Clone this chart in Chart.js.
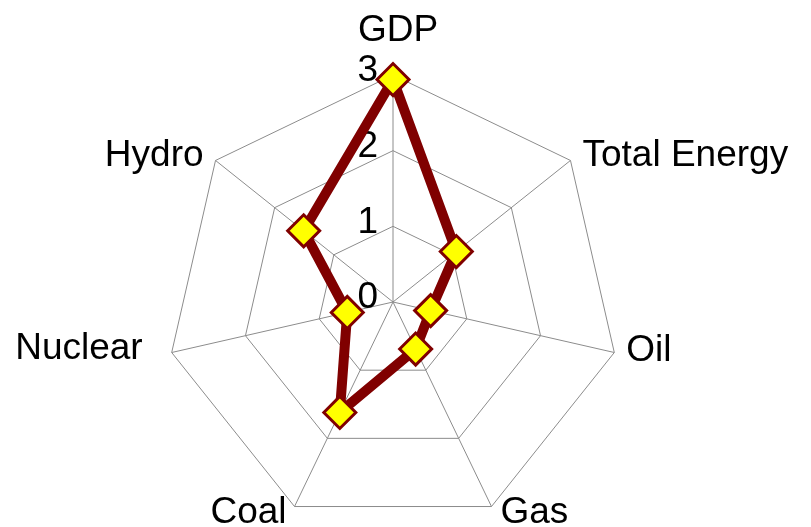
<!DOCTYPE html>
<html>
<head>
<meta charset="utf-8">
<script src="https://cdn.jsdelivr.net/npm/chart.js@4"></script>
<style>
  body { margin: 0; background: #fff; }
  #wrap { width: 811px; height: 527px; }
</style>
</head>
<body>
<div id="wrap"><canvas id="chart" width="811" height="527"></canvas></div>
<script>
// categories, one per spoke
const categories = ['GDP', 'Total Energy', 'Oil', 'Gas', 'Coal', 'Nuclear', 'Hydro'];
// series values
const values = [2.94, 1.07, 0.51, 0.69, 1.62, 0.62, 1.51];
// tick labels on the radial axis
const tickValues = [0, 1, 2, 3];

// where the web sits on the page
const CX = 393, CY = 302, RADIUS = 227;
const FONT = '37px "Liberation Sans", Arial, sans-serif';
// nudges for the spoke labels [dx, dy] from the outer vertex (baseline)
const labelOffsets = [[5, -34], [12, 6], [12, 8], [9, 16], [-8, 16], [-29, 6], [-12, 6]];

const tickLabels = {
  id: 'tickLabels',
  beforeDatasetsDraw(chart) {
    const s = chart.scales.r, ctx = chart.ctx;
    ctx.save();
    ctx.font = FONT;
    ctx.fillStyle = '#000';
    ctx.textAlign = 'right';
    ctx.textBaseline = 'middle';
    tickValues.forEach(v => {
      const d = s.getDistanceFromCenterForValue(v);
      ctx.fillText(String(v), s.xCenter - 15, s.yCenter - d - 4);
    });
    // spoke labels
    categories.forEach((c, i) => {
      const p = s.getPointPosition(i, s.drawingArea);
      const deg = i * 360 / categories.length;
      ctx.textAlign = deg === 0 ? 'center' : (deg < 180 ? 'left' : 'right');
      ctx.textBaseline = 'alphabetic';
      ctx.fillText(c, p.x + labelOffsets[i][0], p.y + labelOffsets[i][1]);
    });
    ctx.restore();
  }
};

new Chart(document.getElementById('chart'), {
  type: 'radar',
  data: {
    labels: categories,
    datasets: [{
      data: values,
      borderColor: '#800000',
      borderWidth: 10,
      fill: false,
      pointStyle: 'rectRot',
      pointRadius: 16,
      pointBackgroundColor: '#FFFF00',
      pointBorderColor: '#800000',
      pointBorderWidth: 3
    }]
  },
  options: {
    responsive: false,
    animation: false,
    events: [],
    plugins: { legend: { display: false }, tooltip: { enabled: false } },
    scales: {
      r: {
        min: 0,
        max: 3,
        beginAtZero: true,
        ticks: { display: false, stepSize: 1 },
        pointLabels: { display: false },
        grid: { color: '#8c8c8c', lineWidth: 1 },
        angleLines: { color: '#8c8c8c', lineWidth: 1 },
        afterFit: (s) => {
          s.xCenter = CX;
          s.yCenter = CY;
          s.drawingArea = RADIUS;
        }
      }
    }
  },
  plugins: [tickLabels]
});
</script>
</body>
</html>
